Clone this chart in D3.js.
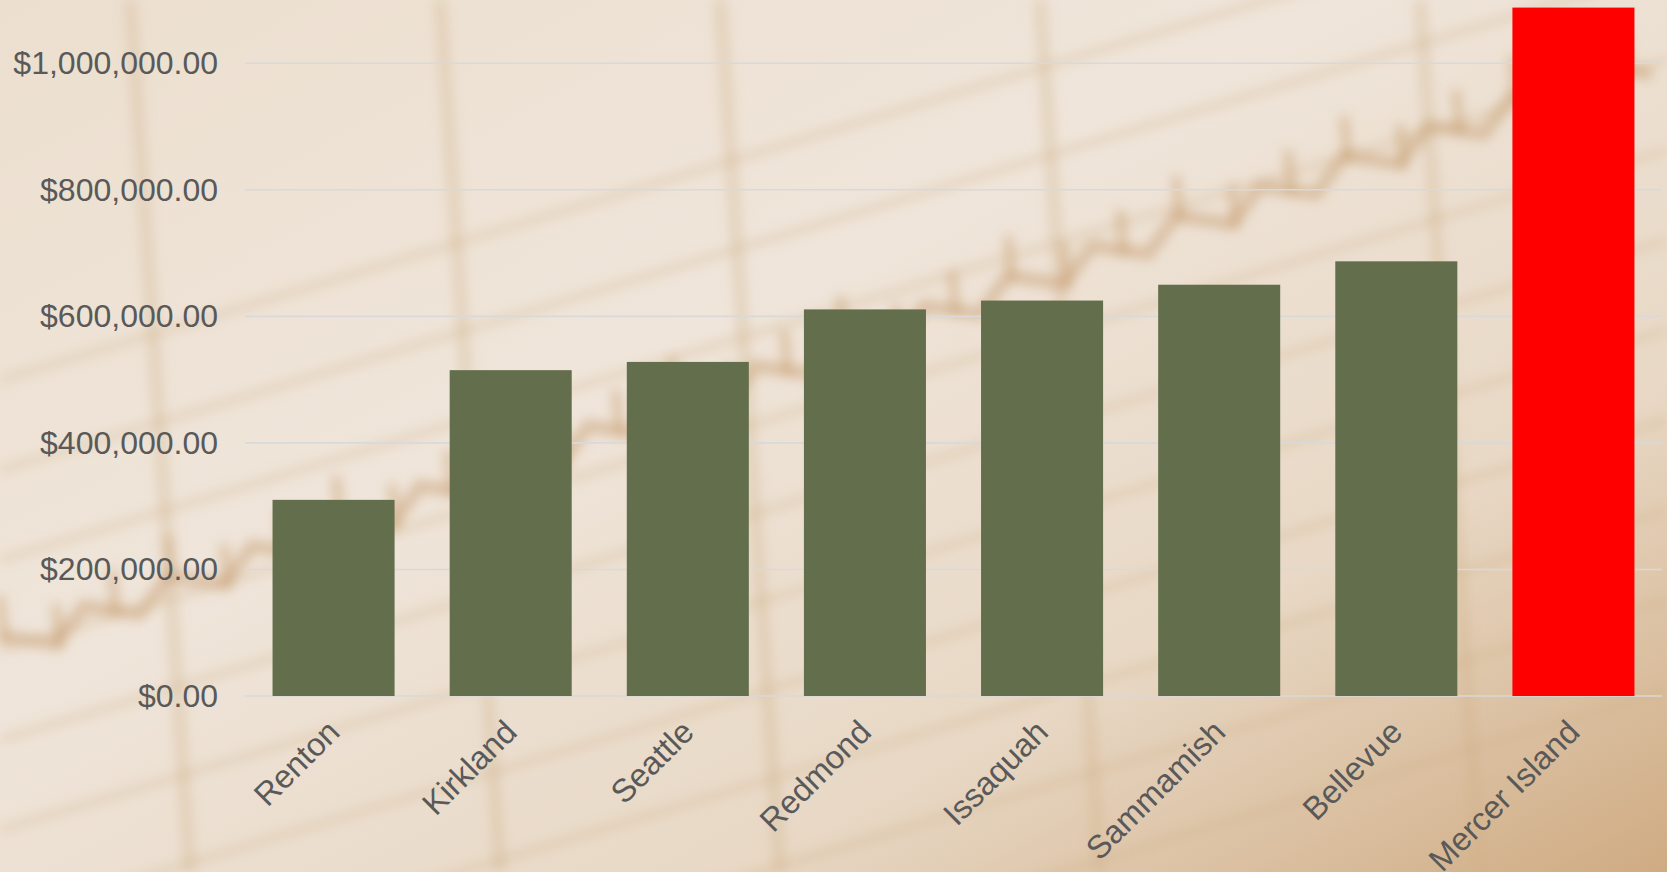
<!DOCTYPE html>
<html>
<head>
<meta charset="utf-8">
<script src="https://cdn.jsdelivr.net/npm/d3@7"></script>
<style>
  html, body { margin: 0; padding: 0; background: #eee3d6; }
  svg { display: block; }
</style>
</head>
<body>
<svg id="chart" width="1667" height="872"></svg>
<script>
// ---- data ----
const cities = ["Renton", "Kirkland", "Seattle", "Redmond", "Issaquah", "Sammamish", "Bellevue", "Mercer Island"];
const medianPrice = [310000, 515000, 528000, 611000, 625000, 650000, 687000, 1088000];
const highlightCity = "Mercer Island";
const yTicks = [0, 200000, 400000, 600000, 800000, 1000000];

// ---- layout ----
const W = 1667, H = 872;
const svg = d3.select("#chart");
const defs = svg.append("defs");

// background
const bg = defs.append("linearGradient").attr("id", "bg")
  .attr("x1", "0").attr("y1", "0").attr("x2", "1").attr("y2", "1");
bg.append("stop").attr("offset", "0%").attr("stop-color", "#ecdfcf");
bg.append("stop").attr("offset", "40%").attr("stop-color", "#efe5da");
bg.append("stop").attr("offset", "72%").attr("stop-color", "#e8d8c5");
bg.append("stop").attr("offset", "100%").attr("stop-color", "#cfab82");
svg.append("rect").attr("width", W).attr("height", H).attr("fill", "url(#bg)");

const blur = defs.append("filter").attr("id", "blur").attr("x", "-20%").attr("y", "-20%").attr("width", "140%").attr("height", "140%");
blur.append("feGaussianBlur").attr("stdDeviation", 6);

// faint decorative texture (background photo imitation)
const decor = svg.append("g").attr("filter", "url(#blur)").attr("fill", "none").attr("stroke", "#cfae88");
const diag = [0, 1, 2, 3, 4, 5, 6, 7, 8, 9];
decor.selectAll("line.d").data(diag).join("line")
  .attr("x1", 0).attr("x2", W)
  .attr("y1", d => 380 + d * 90)
  .attr("y2", d => -120 + d * 90)
  .attr("stroke-width", 7).attr("stroke-opacity", 0.35);
const vert = [130, 440, 720, 1040, 1420];
decor.selectAll("line.v").data(vert).join("line")
  .attr("x1", d => d).attr("x2", d => d + 60)
  .attr("y1", 0).attr("y2", H)
  .attr("stroke-width", 12).attr("stroke-opacity", 0.35);
const trend = d3.range(0, 60).map(i => [i * 28, 650 - i * 10 + ((i % 3) - 1) * 14]);
decor.append("path").attr("d", d3.line()(trend))
  .attr("stroke", "#c9a075").attr("stroke-width", 12).attr("stroke-opacity", 0.55);
decor.selectAll("line.c").data(trend.filter((p, i) => i % 2 === 0)).join("line")
  .attr("x1", p => p[0]).attr("x2", p => p[0] + 4)
  .attr("y1", p => p[1] - 40).attr("y2", p => p[1] + 5)
  .attr("stroke", "#c89c6c").attr("stroke-width", 9).attr("stroke-opacity", 0.5);

// scales
const x = d3.scaleBand().domain(cities).range([245, 1662]).paddingInner(0.311).paddingOuter(0.1555);
const y = d3.scaleLinear().domain([0, 1100000]).range([696, 0]);

const fmt = d3.format("$,.2f");
const font = "'Liberation Sans', Arial, sans-serif";

// gridlines
svg.append("g").selectAll("line").data(yTicks).join("line")
  .attr("x1", 245).attr("x2", 1662)
  .attr("y1", d => y(d)).attr("y2", d => y(d))
  .attr("stroke", "#d9d9d9").attr("stroke-width", 1.6);

// y axis labels
const yAxis = d3.axisLeft(y).tickValues(yTicks).tickFormat(fmt).tickSize(0).tickPadding(0);
const ya = svg.append("g").attr("transform", "translate(218,0)").call(yAxis);
ya.select(".domain").remove();
ya.selectAll("text").attr("font-family", font).attr("font-size", 32).attr("fill", "#595959");

// bars
svg.append("g").selectAll("rect").data(cities).join("rect")
  .attr("x", d => x(d))
  .attr("width", x.bandwidth())
  .attr("y", (d, i) => y(medianPrice[i]))
  .attr("height", (d, i) => y(0) - y(medianPrice[i]))
  .attr("fill", d => d === highlightCity ? "#ff0000" : "#636f4c");

// x axis labels
const xAxis = d3.axisBottom(x).tickSize(0).tickPadding(0);
const xa = svg.append("g").attr("transform", "translate(0,696)").call(xAxis);
xa.select(".domain").remove();
xa.selectAll("text")
  .attr("font-family", font).attr("font-size", 32.5).attr("fill", "#595959")
  .attr("text-anchor", "end")
  .attr("y", 0).attr("dy", 0)
  .attr("transform", "translate(8,38) rotate(-45)");
</script>
</body>
</html>
